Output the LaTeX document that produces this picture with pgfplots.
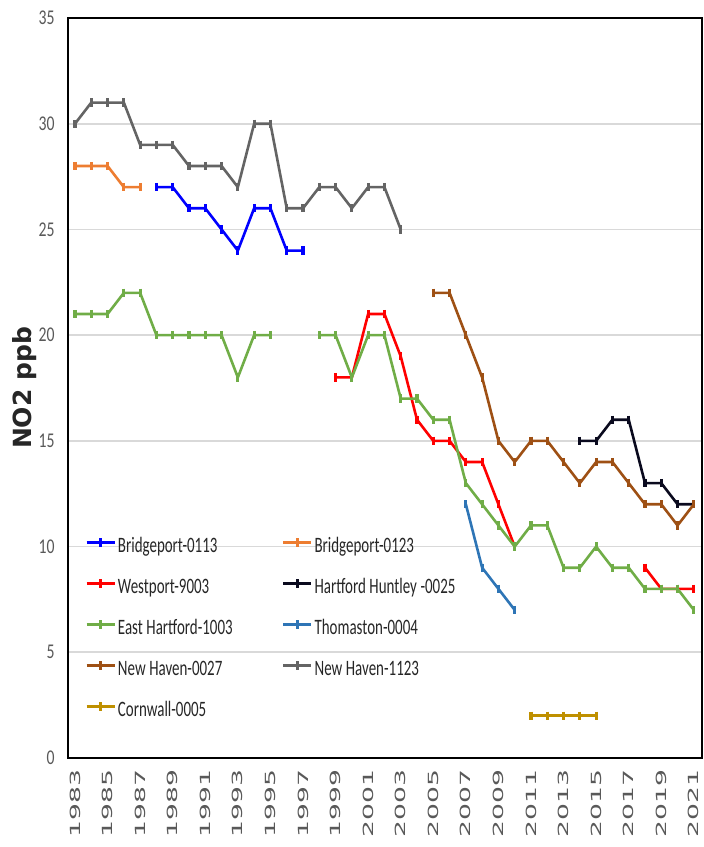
\documentclass[border=0pt]{standalone}
\usepackage{fontspec}
\usepackage{pgfplots}
\pgfplotsset{compat=1.18}
\setmainfont{Carlito}
\newfontfamily\legendfont[FakeStretch=0.68]{Carlito}
\newfontfamily\ytickfont[FakeStretch=0.75]{Carlito}
\newfontfamily\xtickfont[FakeStretch=1.9]{DejaVu Sans}
\newfontfamily\labelfont{DejaVu Sans}
% narrow interword space for the condensed legend face
\newcommand\lsp{\hspace{1.8pt}}

\definecolor{cBPa}{RGB}{0,0,255}
\definecolor{cBPb}{RGB}{237,125,49}
\definecolor{cWest}{RGB}{255,0,0}
\definecolor{cHart}{RGB}{10,10,30}
\definecolor{cEH}{RGB}{112,173,71}
\definecolor{cThom}{RGB}{46,117,182}
\definecolor{cNHa}{RGB}{158,80,20}
\definecolor{cNHb}{RGB}{100,100,100}
\definecolor{cCorn}{RGB}{191,144,0}
\definecolor{tickgray}{RGB}{89,89,89}
\definecolor{gridgray}{RGB}{217,217,217}
\definecolor{textdark}{RGB}{38,38,38}

\begin{document}
\begin{tikzpicture}
\path[use as bounding box] (-34pt,-44.5pt) rectangle (318pt,379pt);
\begin{axis}[
  scale only axis,
  width=317pt, height=370pt,
  xmin=1982.57, xmax=2021.5,
  ymin=0, ymax=35,
  axis line style={black, line width=1pt},
  major tick length=0pt,
  xtick={1983,1985,...,2021},
  xticklabels={1983,1985,1987,1989,1991,1993,1995,1997,1999,2001,2003,2005,2007,2009,2011,2013,2015,2017,2019,2021},
  xticklabel style={font=\xtickfont\fontsize{7}{8}\selectfont, text=tickgray, rotate=90, anchor=east, inner sep=0pt},
  xticklabel shift=5.5pt,
  ytick={0,5,...,35},
  yticklabels={0,5,10,15,20,25,30,35},
  yticklabel style={font=\ytickfont\fontsize{10.5}{12}\selectfont, text=tickgray, anchor=east, inner sep=0pt},
  yticklabel shift=6.5pt,
  ymajorgrids,
  major grid style={gridgray, line width=0.9pt},
  ylabel={NO2 ppb},
  ylabel style={font=\labelfont\bfseries\fontsize{12.5}{14}\selectfont, text=textdark,
    at={(axis description cs:-0.069,0.5)}, anchor=center},
  unbounded coords=jump,
  every axis plot/.append style={line width=1.3pt, mark=|, mark size=2.1pt, mark options={solid, line width=1.6pt}},
  legend columns=2,
  legend style={draw=none, fill=none, at={(rel axis cs:0.0268,0.30)}, anchor=north west,
    inner sep=0pt, column sep=0pt, row sep=9.5pt,
    font=\legendfont\fontsize{11}{12}\selectfont,
    nodes={text width=81pt, inner xsep=1pt, inner ysep=0pt, text height=8pt, text depth=3pt, align=left, text=textdark}},
  legend image code/.code={\draw[#1] (0pt,2.5pt) -- (14pt,2.5pt); \draw[#1] plot coordinates {(7pt,2.5pt)};},
]
\addplot[cBPa] coordinates {(1988,27) (1989,27) (1990,26) (1991,26) (1992,25) (1993,24) (1994,26) (1995,26) (1996,24) (1997,24)};
\addlegendentry{Bridgeport-0113}
\addplot[cBPb] coordinates {(1983,28) (1984,28) (1985,28) (1986,27) (1987,27)};
\addlegendentry{Bridgeport-0123}
\addplot[cWest] coordinates {(1999,18) (2000,18) (2001,21) (2002,21) (2003,19) (2004,16) (2005,15) (2006,15) (2007,14) (2008,14) (2009,12) (2010,10) (2011,nan) (2018,9) (2019,8) (2020,8) (2021,8)};
\addlegendentry{Westport-9003}
\addplot[cHart] coordinates {(2014,15) (2015,15) (2016,16) (2017,16) (2018,13) (2019,13) (2020,12) (2021,12)};
\addlegendentry{Hartford\lsp Huntley\lsp -0025}
\addplot[cEH] coordinates {(1983,21) (1984,21) (1985,21) (1986,22) (1987,22) (1988,20) (1989,20) (1990,20) (1991,20) (1992,20) (1993,18) (1994,20) (1995,20) (1996,nan) (1998,20) (1999,20) (2000,18) (2001,20) (2002,20) (2003,17) (2004,17) (2005,16) (2006,16) (2007,13) (2008,12) (2009,11) (2010,10) (2011,11) (2012,11) (2013,9) (2014,9) (2015,10) (2016,9) (2017,9) (2018,8) (2019,8) (2020,8) (2021,7)};
\addlegendentry{East\lsp Hartford-1003}
\addplot[cThom] coordinates {(2007,12) (2008,9) (2009,8) (2010,7)};
\addlegendentry{Thomaston-0004}
\addplot[cNHa] coordinates {(2005,22) (2006,22) (2007,20) (2008,18) (2009,15) (2010,14) (2011,15) (2012,15) (2013,14) (2014,13) (2015,14) (2016,14) (2017,13) (2018,12) (2019,12) (2020,11) (2021,12)};
\addlegendentry{New\lsp Haven-0027}
\addplot[cNHb] coordinates {(1983,30) (1984,31) (1985,31) (1986,31) (1987,29) (1988,29) (1989,29) (1990,28) (1991,28) (1992,28) (1993,27) (1994,30) (1995,30) (1996,26) (1997,26) (1998,27) (1999,27) (2000,26) (2001,27) (2002,27) (2003,25)};
\addlegendentry{New\lsp Haven-1123}
\addplot[cCorn] coordinates {(2011,2) (2012,2) (2013,2) (2014,2) (2015,2)};
\addlegendentry{Cornwall-0005}
\end{axis}
\end{tikzpicture}
\end{document}
